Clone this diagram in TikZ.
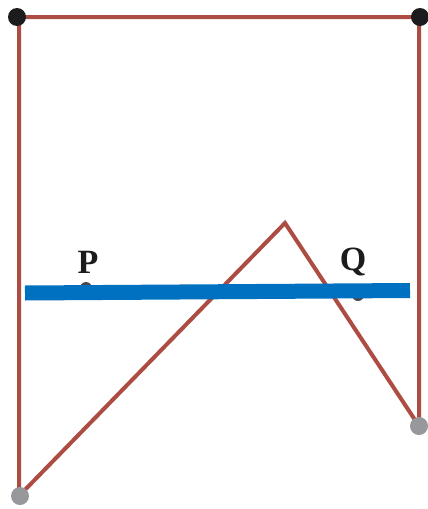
\documentclass[tikz,border=0pt]{standalone}
\usepackage{fontspec}
\setmainfont{Liberation Serif}
\definecolor{wire}{RGB}{172,76,66}
\definecolor{bar}{RGB}{0,112,192}
\definecolor{dotgray}{RGB}{150,152,156}
\definecolor{dotblack}{RGB}{28,28,30}
\begin{document}
\begin{tikzpicture}[x=1pt,y=-1pt,
  wireline/.style={draw=wire,line width=4pt,line join=miter},
  blackdot/.style={circle,fill=dotblack,minimum size=18pt,inner sep=0pt},
  graydot/.style={circle,fill=dotgray,minimum size=18pt,inner sep=0pt},
  smalldot/.style={circle,fill=dotblack!80,minimum size=12pt,inner sep=0pt},
  lab/.style={font=\fontsize{34}{34}\selectfont\bfseries,text=dotblack}]
\useasboundingbox (0,0) rectangle (428,509);
\coordinate (bl) at (19,496);
\coordinate (tl) at (19,17);
\coordinate (tr) at (419,17);
\coordinate (br) at (419,426);
\coordinate (pk) at (285,223);
\draw[wireline] (bl) -- (tl) -- (tr) -- (br) -- (pk) -- cycle;
\node[blackdot] (ntl) at (17,17) {};
\node[blackdot] (ntr) at (420,17) {};
\node[graydot] (nbl) at (20,496) {};
\node[graydot] (nbr) at (419,426) {};
\node[smalldot] (pd) at (86,288) {};
\node[smalldot] (qd) at (358,295) {};
\node[lab] (pl) at (88,262) {P};
\node[lab] (ql) at (353,262) {Q};
\coordinate (b1) at (25,293);
\coordinate (b2) at (410,290.5);
\draw[bar,line width=15pt] (b1) -- (b2);
\end{tikzpicture}
\end{document}
